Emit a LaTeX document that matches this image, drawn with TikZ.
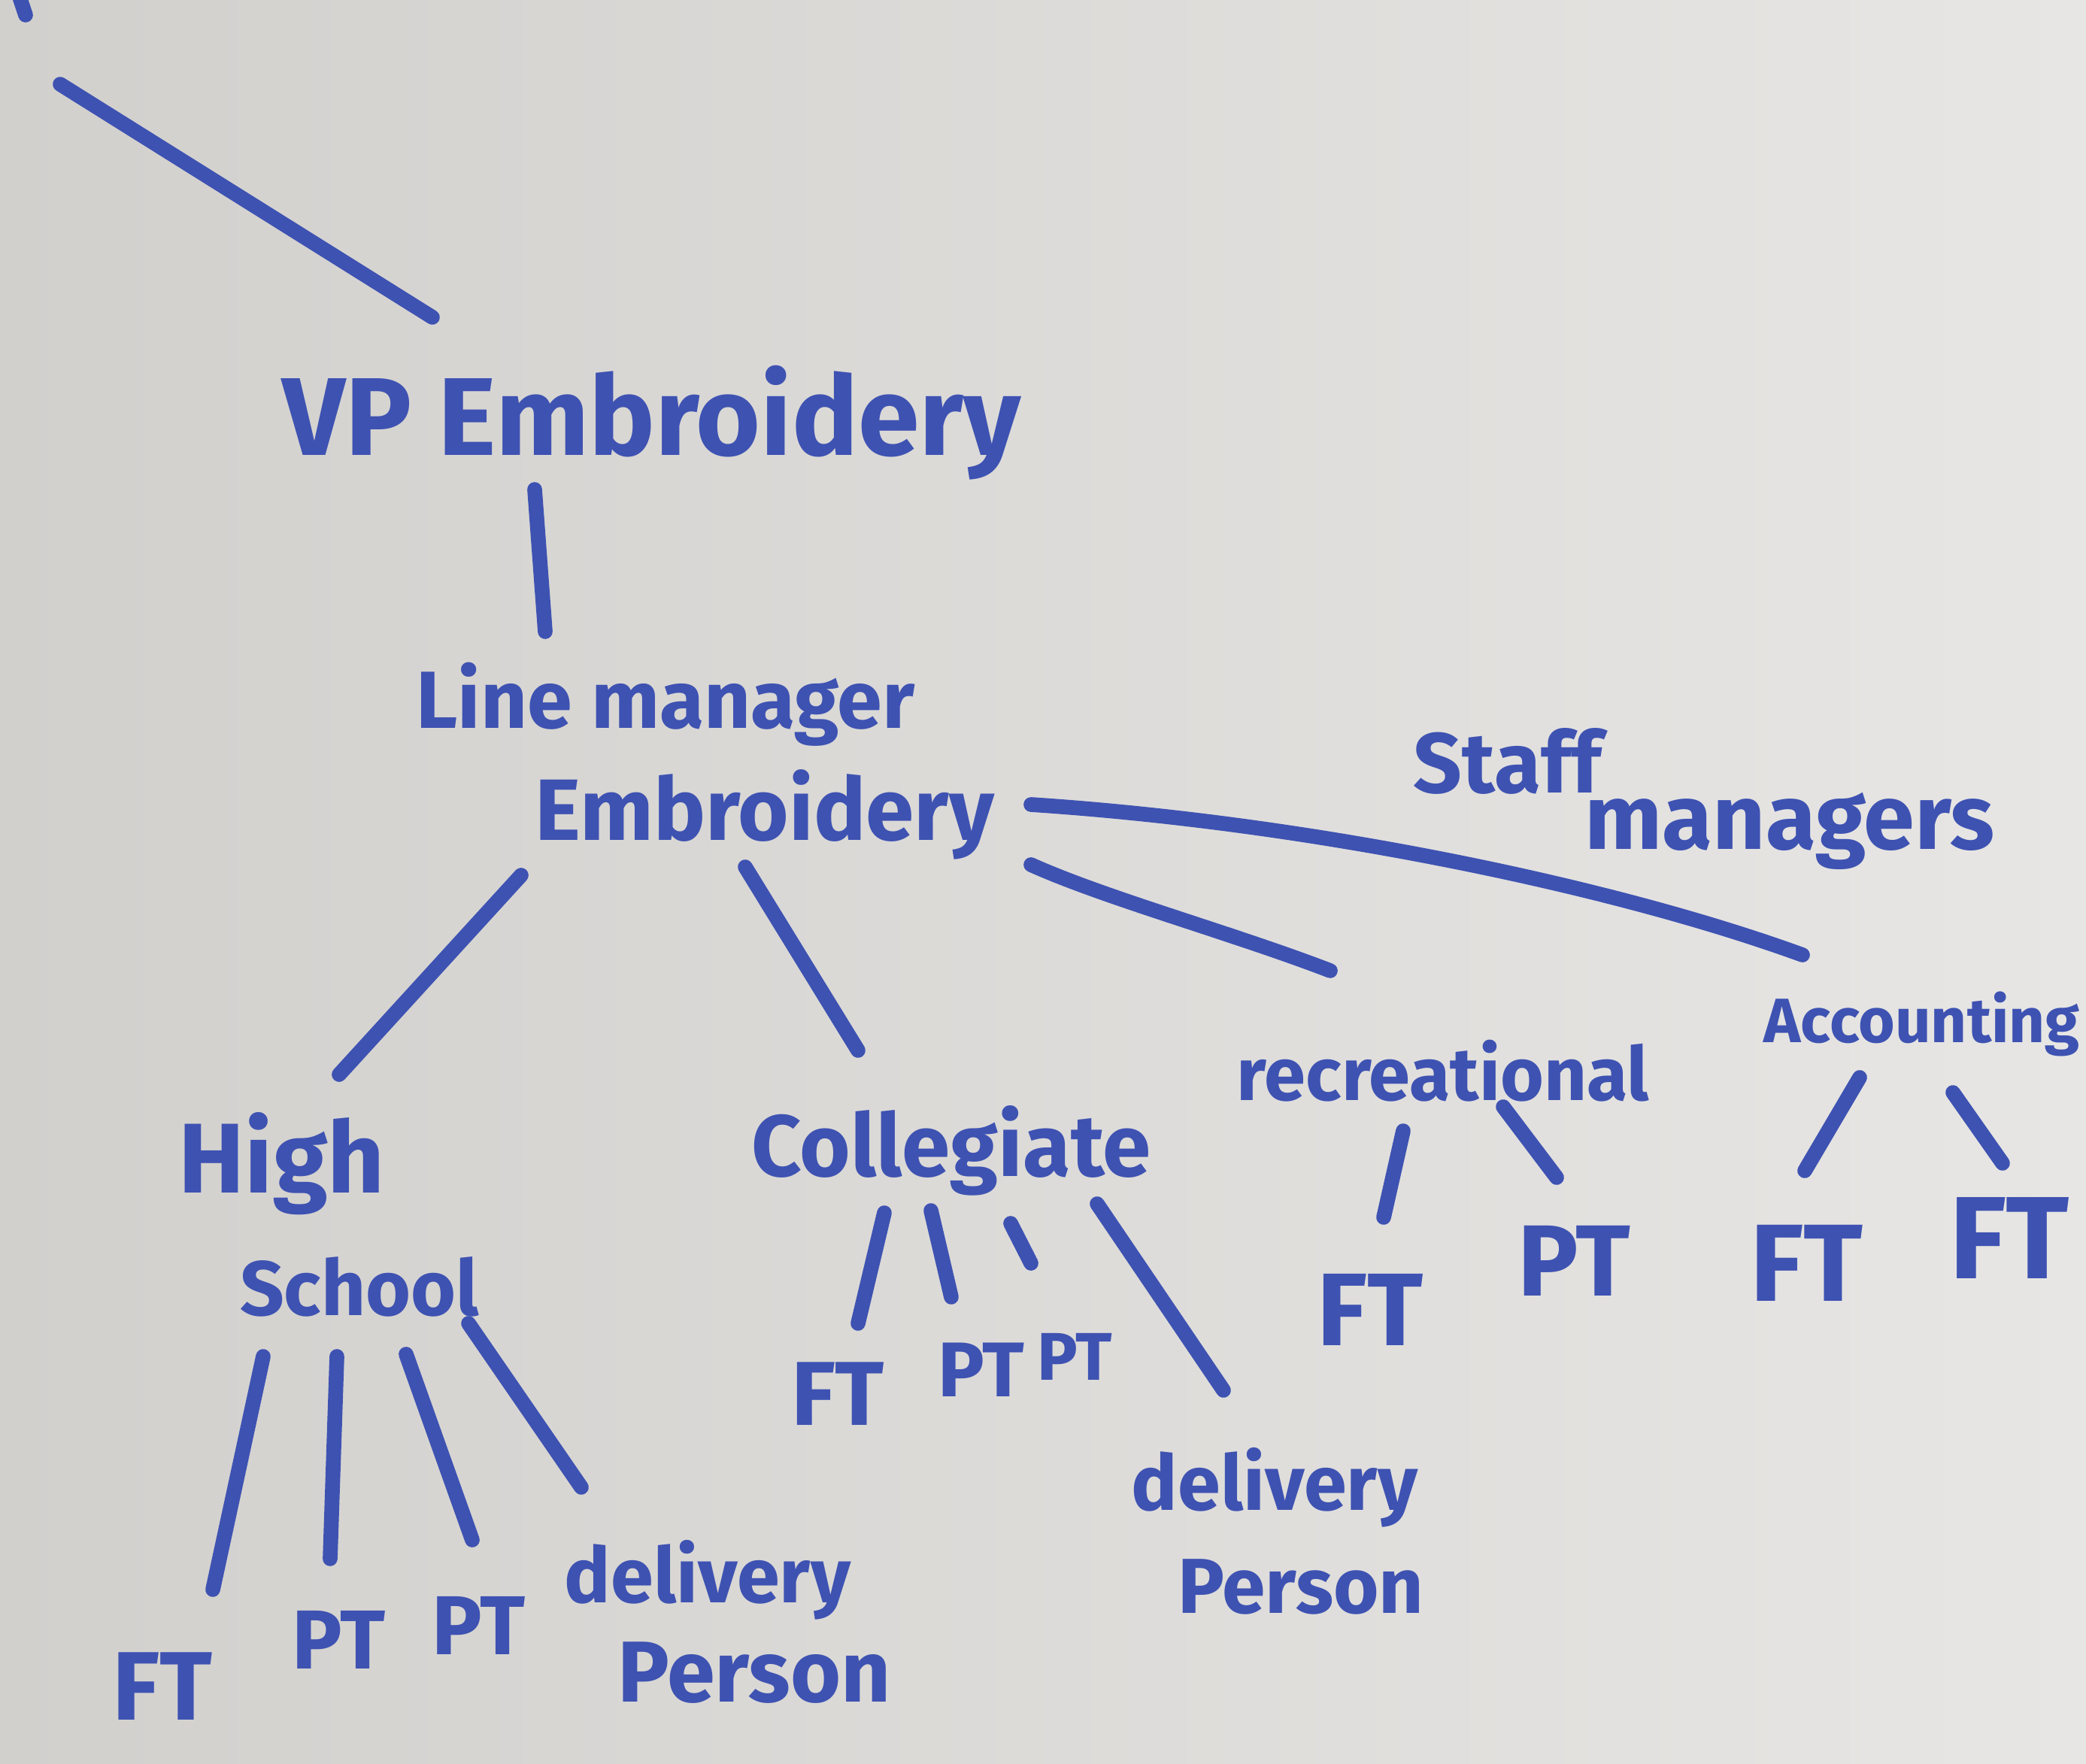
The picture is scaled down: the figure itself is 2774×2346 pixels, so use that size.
\documentclass[tikz,border=0pt]{standalone}
\usepackage{fontspec}
\setmainfont{Fira Sans}
\usetikzlibrary{calc}
\definecolor{ink}{RGB}{62,82,178}
\definecolor{paperL}{RGB}{210,208,205}
\definecolor{paperR}{RGB}{231,230,228}
\newlength\hwunit \setlength\hwunit{0.01cm}
\newcommand\hw[2]{\resizebox{#1\hwunit}{!}{#2}}
\begin{document}
\begin{tikzpicture}[x=0.01cm,y=-0.01cm,
  hand/.style={text=ink,font=\bfseries,inner sep=0pt},
  stroke/.style={draw=ink,line width=5.6pt,line cap=round}]
\useasboundingbox (0,0) rectangle (2774,2346);
\clip (0,0) rectangle (2774,2346);
\shade[left color=paperL,right color=paperR] (0,0) rectangle (2774,2346);

% nodes
\node[hand] (vp) at (867,562) {\hw{982}{VP Embroidery}};
\node[hand] (lm) at (885,937) {\hw{663}{Line manager}};
\node[hand] (emb) at (1017,1083) {\hw{610}{Embroidery}};
\node[hand] (staff) at (2005,1012) {\hw{250}{Staff}};
\node[hand] (mgrs) at (2380,1105) {\hw{545}{managers}};
\node[hand] (high) at (375,1548) {\hw{274}{High}};
\node[hand] (school) at (478,1711) {\hw{318}{School}};
\node[hand] (coll) at (1265,1530) {\hw{531}{Collegiate}};
\node[hand] (rec) at (1919,1424) {\hw{548}{recreational}};
\node[hand,anchor=west] (acc) at (2345,1362) {\hw{420}{Accounting}};

\node[hand] (hsFT) at (216,2243) {\hw{133}{FT}};
\node[hand] (hsPT1) at (451,2181) {\hw{124}{PT}};
\node[hand] (hsPT2) at (637,2162) {\hw{124}{PT}};
\node[hand] (hsDel) at (941,2101) {\hw{380}{delivery}};
\node[hand] (hsPer) at (1003,2225) {\hw{363}{Person}};

\node[hand] (cFT) at (1114,1854) {\hw{124}{FT}};
\node[hand] (cPT1) at (1305,1822) {\hw{115}{PT}};
\node[hand] (cPT2) at (1429,1804) {\hw{100}{PT}};
\node[hand] (cDel) at (1695,1978) {\hw{380}{delivery}};
\node[hand] (cPer) at (1730,2110) {\hw{327}{Person}};

\node[hand] (rFT) at (1822,1742) {\hw{141}{FT}};
\node[hand] (rPT) at (2093,1677) {\hw{150}{PT}};
\node[hand] (aFT1) at (2402,1680) {\hw{150}{FT}};
\node[hand] (aFT2) at (2672,1647) {\hw{160}{FT}};

% free ends
\coordinate (topA) at (24,-10);
\coordinate (topB) at (34,20);
\coordinate (diagTop) at (80,112);

% connectors
\draw[stroke] (topA) -- (topB);
\draw[stroke] (diagTop) -- ($(vp)+(-292,-140)$);
\draw[stroke] ($(vp)+(-156,89)$) -- ($(lm)+(-160,-97)$);
\draw[stroke] ($(emb)+(-324,81)$) -- ($(high)+(76,-119)$);
\draw[stroke] ($(emb)+(-26,70)$) -- ($(coll)+(-124,-133)$);
\draw[stroke] ($(emb)+(354,-13)$) .. controls +(379,25) and +(-247,-90) .. ($(acc.west)+(52,-92)$);
\draw[stroke] ($(emb)+(354,67)$) .. controls +(100,45) and +(-130,-50) .. ($(rec)+(-150,-133)$);

\draw[stroke] ($(school)+(-128,93)$) -- ($(hsFT)+(67,-129)$);
\draw[stroke] ($(school)+(-30,93)$) -- ($(hsPT1)+(-12,-108)$);
\draw[stroke] ($(school)+(62,90)$) -- ($(hsPT2)+(-9,-114)$);
\draw[stroke] ($(school)+(145,49)$) -- ($(hsDel)+(-168,-123)$);

\draw[stroke] ($(coll)+(-89,83)$) -- ($(cFT)+(27,-94)$);
\draw[stroke] ($(coll)+(-27,80)$) -- ($(cPT1)+(-40,-97)$);
\draw[stroke] ($(coll)+(79,97)$) -- ($(cPT2)+(-58,-124)$);
\draw[stroke] ($(coll)+(194,71)$) -- ($(cDel)+(-68,-129)$);

\draw[stroke] ($(rec)+(-53,80)$) -- ($(rFT)+(18,-123)$);
\draw[stroke] ($(rec)+(80,48)$) -- ($(rPT)+(-23,-111)$);

\draw[stroke] ($(acc.west)+(128,71)$) -- ($(aFT1)+(-2,-123)$);
\draw[stroke] ($(acc.west)+(252,91)$) -- ($(aFT2)+(-9,-100)$);
\end{tikzpicture}
\end{document}
